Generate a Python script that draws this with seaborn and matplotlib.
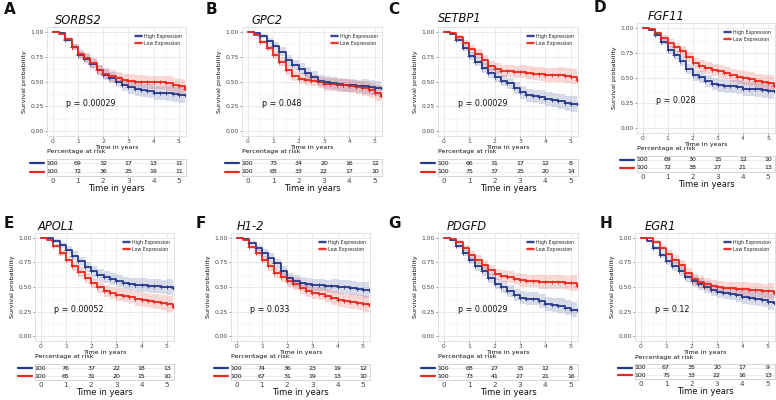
import numpy as np
import pandas as pd
import matplotlib
matplotlib.use("Agg")
import matplotlib.pyplot as plt
import seaborn as sns
from matplotlib.patches import Patch
from matplotlib.lines import Line2D
from matplotlib.ticker import MultipleLocator

# ---------------- data ----------------
times = [0, 0.25, 0.5, 0.75, 1, 1.25, 1.5, 1.75, 2, 2.25, 2.5, 2.75,
         3, 3.25, 3.5, 3.75, 4, 4.25, 4.5, 4.75, 5, 5.25]
ci_half = [0, .01, .02, .03, .04, .045, .05, .05, .055, .06, .06, .06,
           .065, .065, .065, .07, .07, .07, .075, .075, .08, .09]

genes = ["SORBS2", "GPC2", "SETBP1", "FGF11", "APOL1", "H1-2", "PDGFD", "EGR1"]
letters = ["A", "B", "C", "D", "E", "F", "G", "H"]
p_values = ["0.00029", "0.048", "0.00029", "0.028", "0.00052", "0.033", "0.00029", "0.12"]

sorbs2_high = [1, .99, .92, .85, .77, .73, .68, .62, .57, .54, .50, .46, .44, .42, .41, .40, .38, .38, .38, .37, .36, .36]
sorbs2_low = [1, .98, .93, .85, .78, .74, .69, .62, .58, .56, .54, .52, .51, .50, .50, .49, .49, .49, .48, .46, .45, .42]
gpc2_high = [1, .99, .96, .91, .86, .80, .72, .67, .63, .59, .55, .51, .49, .48, .47, .46, .46, .45, .45, .44, .43, .43]
gpc2_low = [1, .97, .90, .84, .77, .70, .62, .56, .53, .52, .51, .49, .47, .47, .46, .46, .45, .44, .43, .41, .38, .35]
setbp1_high = [1, .98, .92, .84, .76, .70, .64, .59, .55, .51, .48, .43, .39, .36, .35, .34, .32, .31, .30, .28, .27, .27]
setbp1_low = [1, .99, .95, .89, .83, .78, .72, .66, .63, .61, .61, .60, .60, .59, .58, .58, .57, .57, .57, .56, .55, .52]
fgf11_high = [1, .98, .93, .86, .78, .73, .67, .59, .53, .51, .47, .44, .43, .42, .42, .41, .39, .39, .39, .38, .37, .37]
fgf11_low = [1, .99, .95, .90, .85, .81, .77, .71, .65, .62, .60, .58, .57, .55, .53, .51, .50, .49, .47, .46, .45, .42]
apol1_high = [1, 1, .97, .93, .88, .82, .76, .70, .66, .62, .60, .58, .56, .54, .53, .52, .52, .51, .51, .50, .50, .49]
apol1_low = [1, .98, .92, .85, .78, .71, .65, .59, .54, .50, .46, .44, .42, .41, .40, .38, .37, .36, .35, .34, .33, .30]
h12_high = [1, .99, .95, .90, .85, .80, .74, .66, .59, .56, .54, .53, .52, .52, .51, .51, .50, .50, .49, .48, .47, .47]
h12_low = [1, .98, .91, .85, .78, .71, .64, .60, .56, .53, .49, .46, .44, .43, .41, .39, .37, .36, .35, .34, .33, .32]
pdgfd_high = [1, .98, .92, .85, .77, .71, .66, .59, .53, .50, .46, .42, .39, .38, .38, .36, .33, .32, .31, .29, .27, .27]
pdgfd_low = [1, .99, .96, .90, .83, .78, .72, .67, .63, .61, .60, .58, .57, .56, .56, .55, .55, .55, .55, .54, .54, .51]
egr1_high = [1, .97, .90, .83, .76, .71, .66, .60, .56, .53, .50, .47, .45, .44, .43, .42, .40, .39, .38, .37, .35, .34]
egr1_low = [1, 1, .96, .90, .84, .78, .72, .64, .58, .55, .53, .51, .50, .49, .49, .48, .48, .47, .47, .46, .46, .44]

risk_years = [0, 1, 2, 3, 4, 5]
risk_sorbs2 = ([100, 69, 32, 17, 13, 11], [100, 72, 36, 25, 19, 11])
risk_gpc2 = ([100, 73, 34, 20, 16, 12], [100, 68, 33, 22, 17, 10])
risk_setbp1 = ([100, 66, 31, 17, 12, 8], [100, 75, 37, 25, 20, 14])
risk_fgf11 = ([100, 69, 30, 15, 12, 10], [100, 72, 38, 27, 21, 13])
risk_apol1 = ([100, 76, 37, 22, 18, 13], [100, 65, 31, 20, 15, 10])
risk_h12 = ([100, 74, 36, 23, 19, 12], [100, 67, 31, 19, 13, 10])
risk_pdgfd = ([100, 68, 27, 15, 12, 8], [100, 73, 41, 27, 21, 16])
risk_egr1 = ([100, 67, 35, 20, 17, 9], [100, 75, 33, 22, 16, 13])

curves = [(sorbs2_high, sorbs2_low), (gpc2_high, gpc2_low), (setbp1_high, setbp1_low),
          (fgf11_high, fgf11_low), (apol1_high, apol1_low), (h12_high, h12_low),
          (pdgfd_high, pdgfd_low), (egr1_high, egr1_low)]
risks = [risk_sorbs2, risk_gpc2, risk_setbp1, risk_fgf11, risk_apol1, risk_h12,
         risk_pdgfd, risk_egr1]

# ---------------- style / layout ----------------
BLUE = "#27398A"
RED = "#E8281E"
W, H = 776, 400

sns.set_theme(style="white")
plt.rcParams["font.family"] = ["DejaVu Sans"]

# plot box (l, t, r, b) and table box (t, b) in pixels
plot_boxes = [(47, 27, 186, 136), (242, 27, 382, 136), (438, 27, 578, 136), (637, 23, 775, 133),
              (35, 233, 174, 341), (231, 233, 370, 341), (438, 233, 578, 341), (635, 233, 775, 341)]
table_boxes = [(159, 176), (159, 176), (159, 176), (156, 172),
               (364, 380), (364, 380), (364, 380), (364, 379)]
letter_pos = [(4, 10), (206, 10), (388, 10), (594, 8),
              (4, 223), (196, 223), (388, 223), (600, 223)]
title_pos = [(55, 20), (251, 20), (438, 18), (648, 16),
             (38, 227), (237, 227), (447, 227), (645, 227)]

fig = plt.figure(figsize=(W / 100, H / 100), dpi=100)


def ax_at(l, t, r, b):
    return fig.add_axes([l / W, 1 - b / H, (r - l) / W, (b - t) / H])


XLIM = (-0.22, 5.28)
for i in range(8):
    l, t, r, b = plot_boxes[i]
    ax = ax_at(l, t, r, b)
    hi, lo = curves[i]
    df = pd.DataFrame({
        "time": times * 2,
        "surv": hi + lo,
        "group": ["High Expression"] * len(times) + ["Low Expression"] * len(times),
    })
    for vals, col in ((hi, BLUE), (lo, RED)):
        v = np.array(vals)
        hw = np.array(ci_half)
        ax.fill_between(times, np.clip(v - hw, 0, 1), np.clip(v + hw, 0, 1), step="post",
                        color=col, alpha=0.18, linewidth=0)
    sns.lineplot(data=df, x="time", y="surv", hue="group", palette=[BLUE, RED],
                 drawstyle="steps-post", linewidth=1.3, errorbar=None, legend=False, ax=ax)
    for vals, col in ((hi, BLUE), (lo, RED)):
        ax.plot(times[2:], vals[2:], linestyle="none", marker="+", markersize=2.2,
                markeredgewidth=0.6, color=col)
    ax.set_xlim(*XLIM)
    ax.set_ylim(-0.05, 1.05)
    ax.set_xticks(range(6))
    ax.set_yticks([0, .25, .5, .75, 1.0])
    ax.set_yticklabels(["0.00", "0.25", "0.50", "0.75", "1.00"])
    ax.xaxis.set_minor_locator(MultipleLocator(0.5))
    ax.yaxis.set_minor_locator(MultipleLocator(0.125))
    ax.grid(True, which="major", color="#E6E6E6", linewidth=0.6)
    ax.grid(True, which="minor", color="#F2F2F2", linewidth=0.4)
    ax.set_axisbelow(True)
    for s in ax.spines.values():
        s.set_color("#DDDDDD")
        s.set_linewidth(0.6)
    ax.tick_params(axis="both", which="major", labelsize=4.3, length=1.5, width=0.4,
                   pad=1, colors="#444444", bottom=True, left=True)
    ax.tick_params(which="minor", length=0)
    ax.set_xlabel("Time in years", fontsize=4.6, labelpad=0.5, color="#111111")
    ax.set_ylabel("Survival probability", fontsize=4.6, labelpad=2, color="#111111")
    ax.text(0.55, 0.25, f"p = {p_values[i]}", fontsize=5.8, transform=ax.transData,
            color="#111111")
    handles = [(Patch(facecolor=BLUE, alpha=0.18, edgecolor="none"), Line2D([], [], color=BLUE, lw=1.3)),
               (Patch(facecolor=RED, alpha=0.18, edgecolor="none"), Line2D([], [], color=RED, lw=1.3))]
    leg = ax.legend(handles, ["High Expression", "Low Expression"], loc="upper right",
                    bbox_to_anchor=(1.0, 0.97), fontsize=3.4, frameon=True, handlelength=1.4,
                    handleheight=0.9, borderpad=0.3, labelspacing=0.35, handletextpad=0.5)
    leg.get_frame().set_facecolor("white")
    leg.get_frame().set_edgecolor("none")

    # risk table
    tt, tb = table_boxes[i]
    tax = ax_at(l, tt, r, tb)
    tax.set_xlim(*XLIM)
    tax.set_ylim(0, 2)
    high_r, low_r = risks[i]
    for k, yr in enumerate(risk_years):
        tax.text(yr, 1.5, str(high_r[k]), ha="center", va="center", fontsize=4.5, color="#111111")
        tax.text(yr, 0.5, str(low_r[k]), ha="center", va="center", fontsize=4.5, color="#111111")
    tax.set_xticks(range(6))
    tax.set_yticks([0.5, 1.5])
    tax.set_yticklabels([])
    tax.grid(True, color="#E6E6E6", linewidth=0.5)
    tax.set_axisbelow(True)
    for s in tax.spines.values():
        s.set_color("#CFCFCF")
        s.set_linewidth(0.6)
    tax.tick_params(axis="x", labelsize=5.2, length=0, pad=1.2, colors="#444444")
    tax.tick_params(axis="y", length=0)
    tax.set_xlabel("Time in years", fontsize=6.0, labelpad=0.3, color="#111111")
    tax.text(0, 1.3, "Percentage at risk", transform=tax.transAxes, fontsize=4.6,
             color="#111111", va="bottom", ha="left")
    for yy, col in ((0.75, BLUE), (0.25, RED)):
        tax.add_line(Line2D([-0.12, -0.02], [yy, yy], transform=tax.transAxes, color=col,
                            lw=1.6, clip_on=False))

    lx, ly = letter_pos[i]
    fig.text(lx / W, 1 - ly / H, letters[i], fontsize=11, fontweight="semibold",
             va="center", ha="left", color="#111111")
    tx, ty = title_pos[i]
    fig.text(tx / W, 1 - ty / H, genes[i], fontsize=8.3, fontstyle="italic",
             va="center", ha="left", color="#111111")

fig.savefig("out.png", dpi=100, facecolor="white")
